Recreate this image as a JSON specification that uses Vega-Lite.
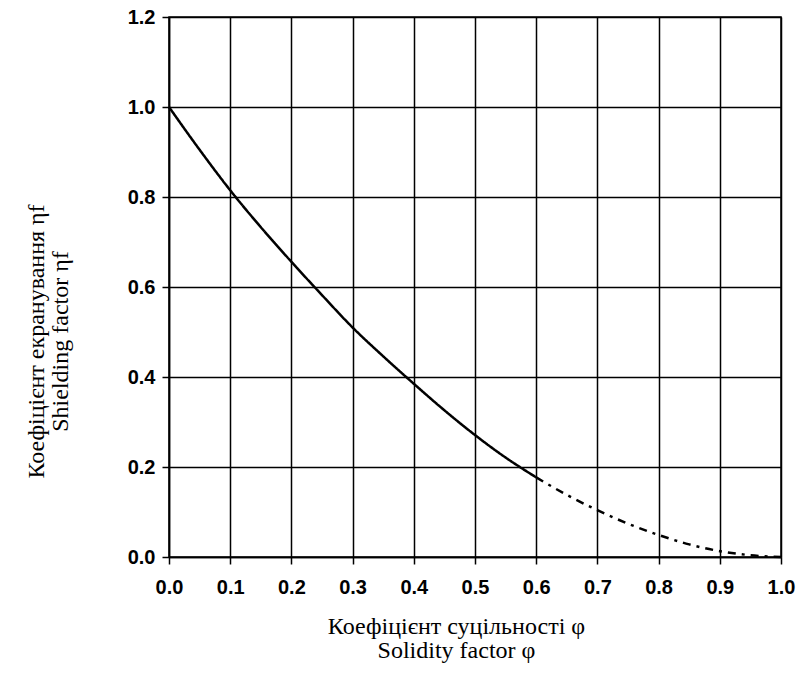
{
  "$schema": "https://vega.github.io/schema/vega-lite/v6.json",
  "autosize": "none",
  "width": 612,
  "height": 540,
  "padding": {"left": 169, "top": 17, "right": 17, "bottom": 128},
  "background": "white",
  "data": {
    "values": [
      {"phi": 0.0, "eta": 1.0, "seg": "measured"},
      {"phi": 0.05, "eta": 0.905, "seg": "measured"},
      {"phi": 0.1, "eta": 0.815, "seg": "measured"},
      {"phi": 0.15, "eta": 0.733, "seg": "measured"},
      {"phi": 0.2, "eta": 0.656, "seg": "measured"},
      {"phi": 0.25, "eta": 0.582, "seg": "measured"},
      {"phi": 0.3, "eta": 0.51, "seg": "measured"},
      {"phi": 0.35, "eta": 0.446, "seg": "measured"},
      {"phi": 0.4, "eta": 0.385, "seg": "measured"},
      {"phi": 0.45, "eta": 0.326, "seg": "measured"},
      {"phi": 0.5, "eta": 0.271, "seg": "measured"},
      {"phi": 0.55, "eta": 0.221, "seg": "measured"},
      {"phi": 0.6, "eta": 0.177, "seg": "measured"},
      {"phi": 0.6, "eta": 0.177, "seg": "extrapolated"},
      {"phi": 0.65, "eta": 0.138, "seg": "extrapolated"},
      {"phi": 0.7, "eta": 0.104, "seg": "extrapolated"},
      {"phi": 0.75, "eta": 0.074, "seg": "extrapolated"},
      {"phi": 0.8, "eta": 0.049, "seg": "extrapolated"},
      {"phi": 0.85, "eta": 0.028, "seg": "extrapolated"},
      {"phi": 0.9, "eta": 0.013, "seg": "extrapolated"},
      {"phi": 0.95, "eta": 0.004, "seg": "extrapolated"},
      {"phi": 1.0, "eta": 0.0, "seg": "extrapolated"}
    ]
  },
  "mark": {"type": "line", "color": "black", "strokeWidth": 2.5, "interpolate": "monotone"},
  "encoding": {
    "x": {
      "field": "phi",
      "type": "quantitative",
      "scale": {"domain": [0, 1], "nice": false, "zero": false},
      "axis": {
        "values": [0, 0.1, 0.2, 0.3, 0.4, 0.5, 0.6, 0.7, 0.8, 0.9, 1.0],
        "format": ".1f",
        "labelFlush": false,
        "labelOverlap": false,
        "title": ["Коефіцієнт суцільності φ", "Solidity factor φ"],
        "titleFont": "Liberation Serif",
        "titleFontSize": 24,
        "titleFontWeight": "normal",
        "titleColor": "black",
        "titleLineHeight": 24,
        "titleX": 287,
        "titleY": 76,
        "titleAlign": "center",
        "titleBaseline": "alphabetic",
        "labelFont": "Liberation Sans",
        "labelFontSize": 20,
        "labelFontWeight": "bold",
        "labelColor": "black",
        "labelPadding": 13,
        "tickSize": 7,
        "tickColor": "black",
        "tickWidth": 1.5,
        "domainColor": "black",
        "domainWidth": 1.5,
        "gridColor": "black",
        "gridWidth": 1.5,
        "gridOpacity": 1
      }
    },
    "y": {
      "field": "eta",
      "type": "quantitative",
      "scale": {"domain": [0, 1.2], "nice": false},
      "axis": {
        "values": [0, 0.2, 0.4, 0.6, 0.8, 1.0, 1.2],
        "format": ".1f",
        "labelFlush": false,
        "labelOverlap": false,
        "title": ["Коефіцієнт екранування ηf", "Shielding factor ηf"],
        "titleFont": "Liberation Serif",
        "titleFontSize": 24,
        "titleFontWeight": "normal",
        "titleColor": "black",
        "titleLineHeight": 24,
        "titleAngle": -90,
        "titleX": -126,
        "titleY": 324,
        "titleAlign": "center",
        "titleBaseline": "alphabetic",
        "labelFont": "Liberation Sans",
        "labelFontSize": 20,
        "labelFontWeight": "bold",
        "labelColor": "black",
        "labelPadding": 7,
        "tickSize": 7,
        "tickColor": "black",
        "tickWidth": 1.5,
        "domainColor": "black",
        "domainWidth": 1.5,
        "gridColor": "black",
        "gridWidth": 1.5,
        "gridOpacity": 1
      }
    },
    "strokeDash": {
      "field": "seg",
      "type": "nominal",
      "scale": {"domain": ["measured", "extrapolated"], "range": [[1, 0], [8, 6, 3, 6]]},
      "legend": null
    }
  },
  "config": {
    "view": {"stroke": "black", "strokeWidth": 1.5}
  }
}
